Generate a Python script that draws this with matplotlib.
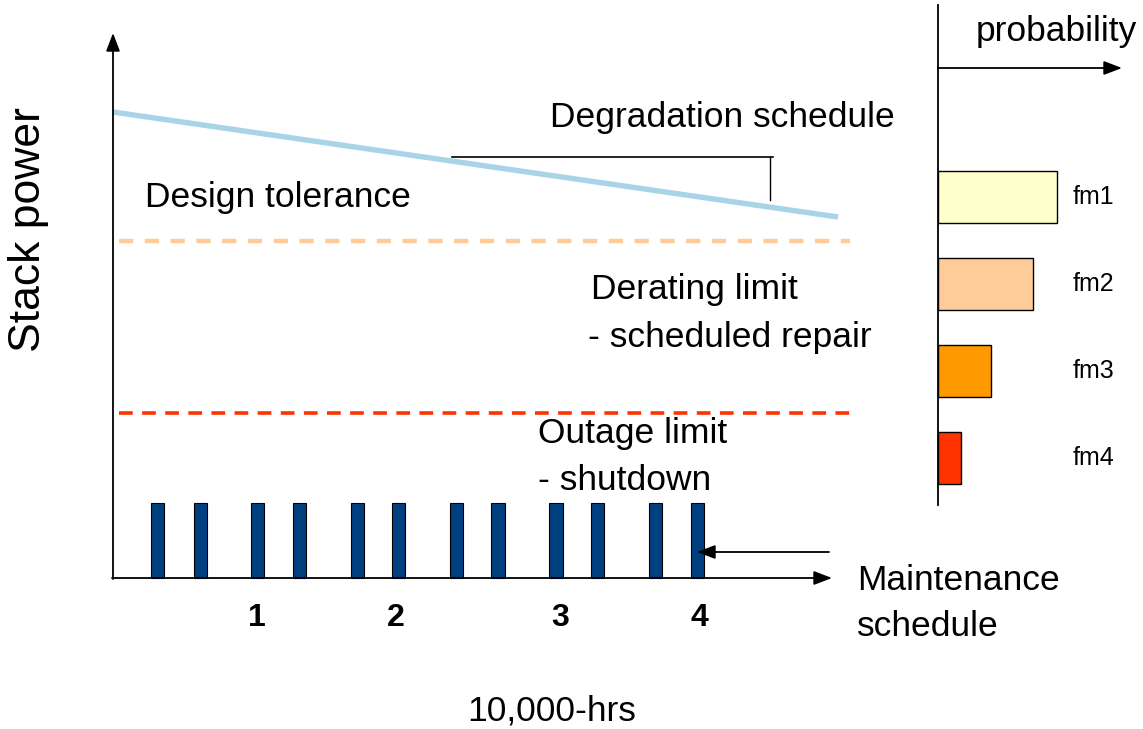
import matplotlib
matplotlib.use("Agg")
import matplotlib.pyplot as plt

plt.rcParams['font.family'] = ['Liberation Sans', 'DejaVu Sans']

# ---- data (time axis in units of 10,000 hrs, power in arbitrary units) ----
maint_times = [0.307, 0.594, 0.986, 1.273, 1.666, 1.949, 2.345, 2.628, 3.024, 3.307, 3.706, 3.990]
maint_height = 0.75
tick_positions = [0.983, 1.932, 3.05, 4.0]
tick_labels = ["1", "2", "3", "4"]
degradation_x = [0.0, 4.949]
degradation_y = [4.66, 3.61]
design_tolerance = 3.37
outage_limit = 1.65
limit_x = [0.04, 5.03]

failure_modes = ["fm1", "fm2", "fm3", "fm4"]
probabilities = [0.654, 0.522, 0.291, 0.126]
fm_colors = ["#ffffcc", "#ffcc99", "#ff9900", "#ff3300"]

W, H = 1143, 729
fig = plt.figure(figsize=(W / 100, H / 100), dpi=100)

# main axes covering whole figure; x: 0 at px 113, 146.5 px/unit; y: 0 at px 578, 100 px/unit
ax = fig.add_axes([0, 0, 1, 1])
ax.set_xlim(-113 / 146.5, (W - 113) / 146.5)
ax.set_ylim((578 - H) / 100, 578 / 100)
ax.axis("off")

def px(x, y):
    return ((x - 113) / 146.5, (578 - y) / 100)

arr = dict(arrowstyle="-|>,head_length=1.1,head_width=0.42", color="black", lw=1.3,
           shrinkA=0, shrinkB=0)

# axes arrows
ax.annotate("", xy=px(113, 33), xytext=px(113, 579), arrowprops=arr)
ax.annotate("", xy=px(832, 578), xytext=px(112, 578), arrowprops=arr)

# degradation line
ax.plot(degradation_x, degradation_y, color="#a9d3e6", lw=3.9, solid_capstyle="butt")

# limits
ax.plot(limit_x, [design_tolerance] * 2, color="#ffcc99", lw=3.2, dashes=(3.2, 2.6))
ax.plot(limit_x, [outage_limit] * 2, color="#ff3300", lw=2.6, dashes=(3.8, 2.6))

# maintenance bars
ax.bar(maint_times, [maint_height] * len(maint_times), width=0.089, bottom=0,
       color="#004080", edgecolor="black", linewidth=0.8, align="center")

# bracket for degradation schedule
x0, y0 = px(452, 157)
x1, _ = px(773, 157)
ax.plot([x0, x1], [y0, y0], color="black", lw=1.2)
xv, yv1 = px(770, 157)
_, yv2 = px(770, 200)
ax.plot([xv, xv], [yv1, yv2], color="black", lw=1.0)

# maintenance arrow
ax.annotate("", xy=px(697, 552), xytext=px(829, 552), arrowprops=arr)

# tick labels
for t, lab in zip(tick_positions, tick_labels):
    ax.text(t, px(0, 618)[1], lab, ha="center", va="center", fontsize=23, fontweight="bold")

fs = 25.5
ax.text(*px(722, 117), "Degradation schedule", ha="center", va="center", fontsize=fs)
ax.text(*px(145, 197), "Design tolerance", ha="left", va="center", fontsize=fs)
ax.text(*px(591, 289), "Derating limit", ha="left", va="center", fontsize=fs)
ax.text(*px(588, 337), "- scheduled repair", ha="left", va="center", fontsize=fs)
ax.text(*px(538, 433), "Outage limit", ha="left", va="center", fontsize=fs)
ax.text(*px(538, 481), "- shutdown", ha="left", va="center", fontsize=fs)
ax.text(*px(857, 580), "Maintenance", ha="left", va="center", fontsize=fs)
ax.text(*px(857, 627), "schedule", ha="left", va="center", fontsize=fs)
ax.text(*px(552, 711), "10,000-hrs", ha="center", va="center", fontsize=fs)
ax.text(*px(29, 230), "Stack power", ha="center", va="center", fontsize=32, rotation=90)

# probability panel
left, right, top, bottom = 938, 1120, 5, 505
ax2 = fig.add_axes([left / W, (H - bottom) / H, (right - left) / W, (bottom - top) / H])
ax2.set_xlim(0, 1)
ax2.set_ylim((bottom - 197) / 87, (top - 197) / 87)
ax2.axis("off")
ax2.patch.set_alpha(0)
ypos = list(range(len(failure_modes)))
ax2.barh(ypos, probabilities, height=0.6, left=0, color=fm_colors, edgecolor="black", linewidth=1.0)
for y, lab in zip(ypos, failure_modes):
    ax2.text(0.855, y, lab, ha="center", va="center", fontsize=18)

ax.plot([px(938, 0)[0]] * 2, [px(0, 5)[1], px(0, 505)[1]], color="black", lw=1.3)
ax.annotate("", xy=px(1122, 68), xytext=px(938, 68), arrowprops=arr)
ax.text(*px(1056, 32), "probability", ha="center", va="center", fontsize=fs)

fig.savefig("out.png", dpi=100)
